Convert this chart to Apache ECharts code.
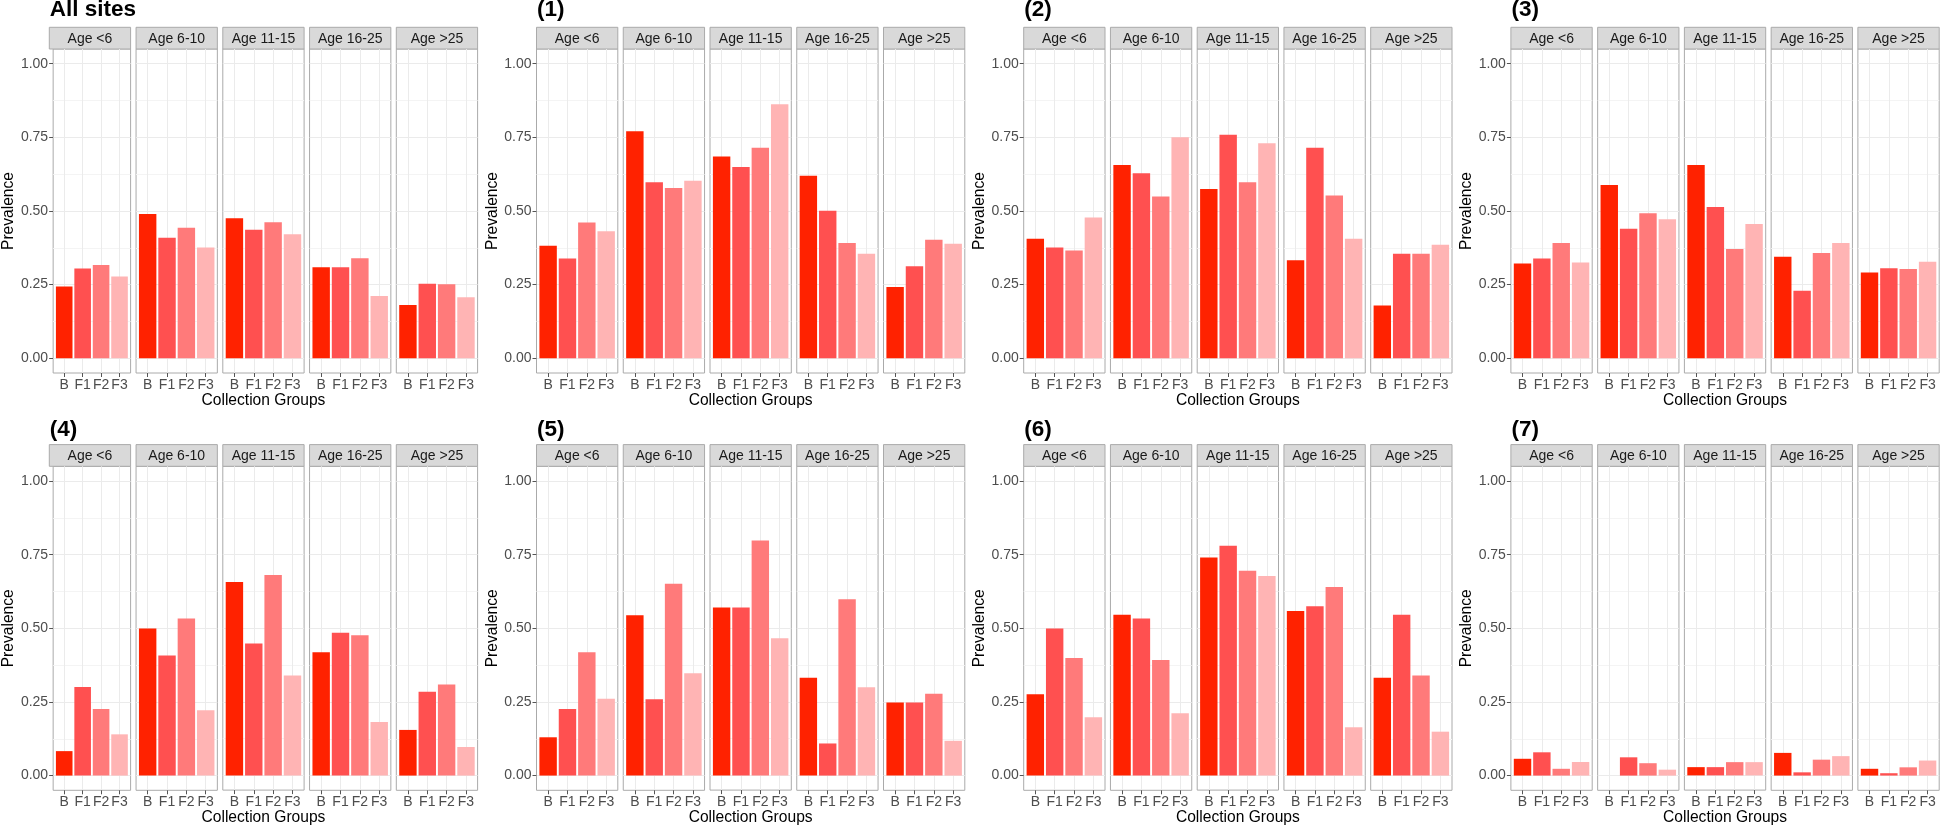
<!DOCTYPE html>
<html><head><meta charset="utf-8">
<script src="https://cdn.jsdelivr.net/npm/echarts@6/dist/echarts.min.js"></script>
<style>html,body{margin:0;padding:0;background:#fff}#c{width:1940px;height:827px}</style>
</head><body><div id="c"></div>
<script>
// ---- data ----
const categories = ['B', 'F1', 'F2', 'F3'];
const ageGroups = ['Age <6', 'Age 6-10', 'Age 11-15', 'Age 16-25', 'Age >25'];
const panelTitles = ['All sites', '(1)', '(2)', '(3)', '(4)', '(5)', '(6)', '(7)'];
const yTickValues = [0, 0.25, 0.5, 0.75, 1];
const yMinorValues = [0.125, 0.375, 0.625, 0.875];
const xAxisTitle = 'Collection Groups';
const yAxisTitle = 'Prevalence';

// each row: one age group, values for B, F1, F2, F3
const allSites = [[0.244, 0.305, 0.317, 0.278], [0.490, 0.409, 0.443, 0.376], [0.475, 0.436, 0.462, 0.421], [0.309, 0.309, 0.340, 0.211], [0.181, 0.253, 0.251, 0.207]];
const site1 = [[0.382, 0.339, 0.461, 0.431], [0.771, 0.598, 0.578, 0.603], [0.685, 0.649, 0.715, 0.862], [0.620, 0.501, 0.391, 0.355], [0.242, 0.312, 0.402, 0.389]];
const site2 = [[0.406, 0.376, 0.366, 0.478], [0.656, 0.628, 0.549, 0.750], [0.575, 0.759, 0.598, 0.730], [0.333, 0.715, 0.553, 0.406], [0.179, 0.355, 0.355, 0.385]];
const site3 = [[0.322, 0.339, 0.391, 0.325], [0.588, 0.440, 0.492, 0.472], [0.656, 0.514, 0.371, 0.456], [0.345, 0.229, 0.357, 0.391], [0.291, 0.306, 0.303, 0.328]];
const site4 = [[0.083, 0.301, 0.226, 0.140], [0.499, 0.408, 0.533, 0.222], [0.657, 0.448, 0.681, 0.339], [0.419, 0.485, 0.476, 0.182], [0.155, 0.285, 0.309, 0.097]];
const site5 = [[0.130, 0.226, 0.419, 0.261], [0.544, 0.259, 0.651, 0.347], [0.570, 0.570, 0.798, 0.466], [0.332, 0.109, 0.599, 0.300], [0.248, 0.248, 0.278, 0.118]];
const site6 = [[0.276, 0.499, 0.399, 0.198], [0.546, 0.533, 0.392, 0.212], [0.740, 0.780, 0.695, 0.677], [0.559, 0.575, 0.640, 0.164], [0.332, 0.546, 0.340, 0.149]];
const site7 = [[0.057, 0.079, 0.023, 0.046], [0, 0.062, 0.042, 0.020], [0.028, 0.028, 0.045, 0.045], [0.077, 0.011, 0.054, 0.066], [0.023, 0.008, 0.028, 0.051]];
const panels = [allSites, site1, site2, site3, site4, site5, site6, site7];

// ---- styling / layout ----
const barColors = ['#ff2200', '#ff5050', '#ff7a7a', '#ffb4b4'];
const FONT = "'Liberation Sans', Arial, sans-serif";
const colLeft = [49.3, 536.5, 1023.7, 1510.9];
const facetW = 81.3, facetGap = 5.45;
const rowStripTop = [27.3, 444.6];
const stripH = 21.7;
const plotH = 324;
const titleY = [10, 429.5];
const borderColor = '#aaaaaa';

const grids = [], xAxes = [], yAxes = [], series = [], graphics = [];

panels.forEach((panel, p) => {
  const col = p % 4, row = Math.floor(p / 4);
  const stripTop = rowStripTop[row];
  const plotTop = stripTop + stripH;
  graphics.push({
    type: 'text', silent: true,
    style: { text: panelTitles[p], x: colLeft[col] + 0.5, y: titleY[row], verticalAlign: 'middle', font: 'bold 22.5px ' + FONT, fill: '#000' }
  });
  panel.forEach((vals, f) => {
    const g = p * 5 + f;
    const left = colLeft[col] + f * (facetW + facetGap);
    grids.push({ left: left, top: plotTop, width: facetW, height: plotH, show: true, borderColor: borderColor, borderWidth: 1, backgroundColor: '#fff', containLabel: false });
    graphics.push({
      type: 'rect', silent: true,
      shape: { x: left, y: stripTop, width: facetW, height: stripH },
      style: { fill: '#d9d9d9', stroke: borderColor, lineWidth: 1 }
    });
    graphics.push({
      type: 'text', silent: true,
      style: { text: ageGroups[f], x: left + facetW / 2, y: stripTop + stripH / 2 + 0.5, align: 'center', verticalAlign: 'middle', font: '14px ' + FONT, fill: '#1a1a1a' }
    });
    xAxes.push({
      gridIndex: g, type: 'value', min: 0.4, max: 4.6,
      axisLine: { show: false, onZero: false },
      axisTick: { show: true, customValues: [1, 2, 3, 4], length: 4, lineStyle: { color: '#555' } },
      axisLabel: { customValues: [1, 2, 3, 4], formatter: v => categories[Math.round(v) - 1], color: '#4d4d4d', fontSize: 14, fontFamily: FONT, margin: 5 },
      splitLine: { show: true, lineStyle: { color: '#ebebeb', width: 1 } },
      name: f === 2 ? xAxisTitle : '', nameLocation: 'middle', nameGap: 18,
      nameTextStyle: { fontSize: 15.6, color: '#000', fontFamily: FONT }
    });
    yAxes.push({
      gridIndex: g, type: 'value', min: -0.05, max: 1.05, position: 'left',
      axisLine: { show: false, onZero: false },
      axisTick: { show: f === 0, customValues: yTickValues, length: 4, lineStyle: { color: '#555' } },
      axisLabel: { show: f === 0, customValues: yTickValues, formatter: v => v.toFixed(2), color: '#4d4d4d', fontSize: 14, fontFamily: FONT, margin: 5 },
      splitLine: { show: true, lineStyle: { color: '#ebebeb', width: 1 } },
      name: f === 0 ? yAxisTitle : '', nameLocation: 'middle', nameGap: 33,
      nameTextStyle: { fontSize: 15.6, color: '#000', fontFamily: FONT }
    });
    yAxes.push({
      gridIndex: g, type: 'value', min: -0.05, max: 1.05, position: 'right',
      axisLine: { show: false, onZero: false },
      axisTick: { show: false, customValues: yMinorValues },
      axisLabel: { show: false, customValues: yMinorValues },
      splitLine: { show: true, lineStyle: { color: '#f4f4f4', width: 1 } }
    });
    series.push({
      type: 'bar', xAxisIndex: g, yAxisIndex: 2 * g, silent: true,
      barWidth: '90%',
      data: vals.map((v, i) => [i + 1, v]),
      itemStyle: { color: params => barColors[params.dataIndex] }
    });
  });
});

const chart = echarts.init(document.getElementById('c'), null, { renderer: 'canvas' });
chart.setOption({
  animation: false,
  backgroundColor: '#fff',
  textStyle: { fontFamily: FONT },
  grid: grids, xAxis: xAxes, yAxis: yAxes, series: series,
  graphic: { elements: graphics }
});
</script>
</body></html>
